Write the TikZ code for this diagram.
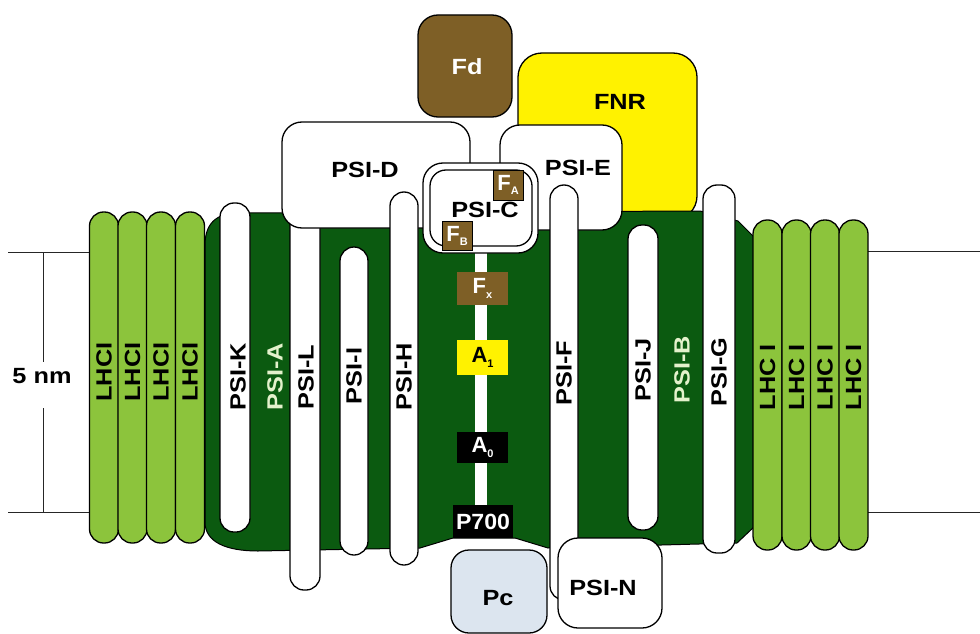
\documentclass[tikz,border=0pt]{standalone}
\usepackage{fontspec}
\setmainfont{Liberation Sans}
\usepackage{graphicx}
\newcommand\wide[1]{\scalebox{1.15}[1]{#1}}
\newcommand\subtxt[1]{\raisebox{-0.4ex}{\fontsize{11}{11}\selectfont #1}}
\definecolor{dkgreen}{HTML}{0B5A10}
\definecolor{ltgreen}{HTML}{8CC43C}
\definecolor{fnryellow}{HTML}{FFF200}
\definecolor{brownfe}{HTML}{7E5F26}
\definecolor{pcblue}{HTML}{DCE5EF}
\definecolor{palegreen}{HTML}{E4F2CC}
\begin{document}
\begin{tikzpicture}[x=1pt,y=-1pt,
  memline/.style={draw=black!85, line width=1pt},
  unit/.style={draw=black, line width=1.3pt, fill=white, inner sep=0pt, rounded corners=14pt},
  lhc/.style={unit, fill=ltgreen, minimum width=29pt},
  boxw/.style={unit, rounded corners=20pt},
  txt/.style={font=\bfseries\fontsize{22}{22}\selectfont, inner sep=0pt},
  vtxt/.style={txt, rotate=90},
  cof/.style={draw=black, line width=0.6pt, inner sep=0pt, font=\bfseries\fontsize{22}{22}\selectfont}
]
\useasboundingbox (0,0) rectangle (980,634);

% membrane lines and dimension
\coordinate (ml1) at (8,252); \coordinate (ml2) at (92,252);
\coordinate (ml3) at (8,512); \coordinate (ml4) at (92,512);
\coordinate (mr1) at (866,251); \coordinate (mr2) at (980,251);
\coordinate (mr3) at (866,512); \coordinate (mr4) at (980,512);
\draw[memline] (ml1) -- (ml2);
\draw[memline] (ml3) -- (ml4);
\draw[memline] (mr1) -- (mr2);
\draw[memline] (mr3) -- (mr4);
\node[txt] (nm) at (42,376) {\wide{5 nm}};
\coordinate (d1) at (43,252); \coordinate (d2) at (43,362);
\coordinate (d3) at (43,408); \coordinate (d4) at (43,512);
\draw[memline] (d1) -- (d2);
\draw[memline] (d3) -- (d4);

% FNR (behind body)
\node[unit, fill=fnryellow, rounded corners=24pt, minimum width=179pt, minimum height=167pt] (fnr) at (607.5,136.5) {};
\node[txt] (fnrl) at (620,102) {\wide{FNR}};

% dark green core
\draw[line width=1pt, fill=dkgreen] (205,245) .. controls (205,224) and (216,213) .. (238,213)
  -- (700,211) -- (738,221) -- (755,238) -- (755,526) -- (737,543) -- (548,548)
  -- (515,538) -- (453,538) -- (420,548) -- (258,551)
  .. controls (226,551) and (205,542) .. (205,522) -- cycle;

% electron path
\node[fill=white, inner sep=0pt, minimum width=12pt, minimum height=265pt] (etc) at (481,382) {};

% subunits behind PSI-D
\node[unit, minimum width=30pt, minimum height=440pt] (psil) at (305,370) {};
\node[unit, minimum width=30pt, minimum height=329pt] (psik) at (235,367.5) {};
\node[unit, minimum width=28pt, minimum height=308pt] (psii) at (354,401) {};

% PSI-D and PSI-E
\node[boxw, minimum width=188pt, minimum height=106pt] (psid) at (376,175) {};
\node[boxw, minimum width=122pt, minimum height=105pt] (psie) at (561,177.5) {};
\node[txt] (psidl) at (365,170) {\wide{PSI-D}};
\node[txt] (psiel) at (578,168) {\wide{PSI-E}};

% PSI-H, PSI-F
\node[unit, minimum width=28pt, minimum height=373pt] (psih) at (404,378.5) {};
\node[unit, minimum width=28pt, minimum height=415pt] (psif) at (564,392.5) {};

% PSI-C
\node[boxw, minimum width=115pt, minimum height=90pt] (psico) at (480.5,208) {};
\node[unit, rounded corners=16pt, minimum width=102pt, minimum height=76pt] (psici) at (481,208) {};
\node[txt] (psicl) at (485,210) {\wide{PSI-C}};

% PSI-J, PSI-G
\node[unit, minimum width=30pt, minimum height=305pt] (psij) at (643,377.5) {};
\node[unit, minimum width=32pt, minimum height=368pt] (psig) at (719,369) {};

% LHCI
\node[lhc, minimum height=331pt] (l1) at (104,377.5) {};
\node[lhc, minimum height=331pt] (l2) at (132.5,377.5) {};
\node[lhc, minimum height=331pt] (l3) at (161,377.5) {};
\node[lhc, minimum height=331pt] (l4) at (190,377.5) {};
\node[lhc, minimum height=330pt] (r1) at (767.5,385) {};
\node[lhc, minimum height=330pt] (r2) at (796.5,385) {};
\node[lhc, minimum height=330pt] (r3) at (825,385) {};
\node[lhc, minimum height=330pt] (r4) at (853.5,385) {};
\node[vtxt] (l1t) at (104,372) {\wide{LHCI}};
\node[vtxt] (l2t) at (132.5,372) {\wide{LHCI}};
\node[vtxt] (l3t) at (161,372) {\wide{LHCI}};
\node[vtxt] (l4t) at (190,372) {\wide{LHCI}};
\node[vtxt] (r1t) at (767.5,377) {\wide{LHC I}};
\node[vtxt] (r2t) at (796.5,377) {\wide{LHC I}};
\node[vtxt] (r3t) at (825,377) {\wide{LHC I}};
\node[vtxt] (r4t) at (853.5,377) {\wide{LHC I}};

% vertical labels
\node[vtxt] (tk) at (238,377) {\wide{PSI-K}};
\node[vtxt, text=palegreen] (ta) at (275,377) {\wide{PSI-A}};
\node[vtxt] (tl) at (306,377) {\wide{PSI-L}};
\node[vtxt] (ti) at (354,376) {\wide{PSI-I}};
\node[vtxt] (th) at (404,377) {\wide{PSI-H}};
\node[vtxt] (tf) at (564,373) {\wide{PSI-F}};
\node[vtxt] (tj) at (643,370) {\wide{PSI-J}};
\node[vtxt, text=palegreen] (tb) at (682,370) {\wide{PSI-B}};
\node[vtxt] (tg) at (719,372) {\wide{PSI-G}};

% Fd
\node[unit, fill=brownfe, rounded corners=20pt, minimum width=94pt, minimum height=102pt] (fd) at (465,66) {};
\node[txt, text=white] (fdl) at (467,67) {\wide{Fd}};

% cofactors
\node[cof, fill=brownfe, text=white, minimum width=30pt, minimum height=30pt] (fa) at (508,185) {F\subtxt{A}};
\node[cof, fill=brownfe, text=white, minimum width=30pt, minimum height=29pt] (fb) at (457,236) {F\subtxt{B}};
\node[cof, draw=none, fill=brownfe, text=white, minimum width=51pt, minimum height=33pt] (fx) at (482.5,288.5) {F\subtxt{x}};
\node[cof, draw=none, fill=fnryellow, text=black, minimum width=51pt, minimum height=35pt] (a1) at (482.5,357.5) {A\subtxt{1}};
\node[cof, draw=none, fill=black, text=white, minimum width=51pt, minimum height=31pt] (a0) at (482.5,447.5) {A\subtxt{0}};
\node[cof, draw=none, fill=black, text=white, minimum width=60pt, minimum height=33pt] (p700) at (483,521.5) {\scalebox{1.05}[1]{P700}};

% lumenal side
\node[unit, fill=pcblue, rounded corners=18pt, minimum width=96pt, minimum height=83pt] (pc) at (499,591.5) {};
\node[txt] (pcl) at (498,598) {\wide{Pc}};
\node[boxw, minimum width=104pt, minimum height=90pt] (psin) at (610,583) {};
\node[txt] (psinl) at (603,588) {\wide{PSI-N}};
\end{tikzpicture}
\end{document}
